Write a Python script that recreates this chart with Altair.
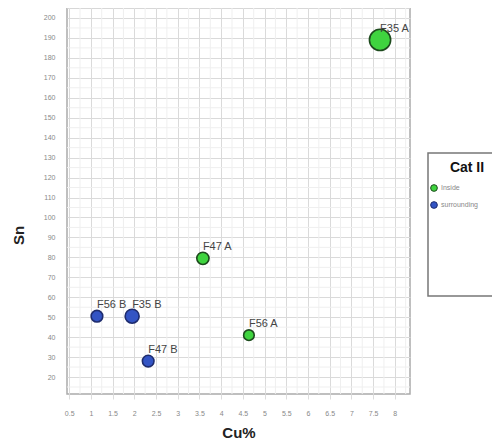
import altair as alt
import pandas as pd

labels = ["F35 A", "F47 A", "F56 A", "F56 B", "F35 B", "F47 B"]
cu = [7.66, 3.58, 4.64, 1.14, 1.95, 2.32]
sn = [189, 79.5, 41, 50.5, 50.5, 28]
weight = [30, 10, 7.5, 9, 13, 9]
cat = ["Inside", "Inside", "Inside", "surrounding", "surrounding", "surrounding"]

categories = ["Inside", "surrounding"]
fills = ["#3fd43f", "#3354c4"]
strokes = ["#1d4a1d", "#1e2c6e"]

x_ticks = [0.5 + 0.5 * i for i in range(16)]
y_ticks = [20 + 10 * i for i in range(19)]
x_minor = [0.75 + 0.5 * i for i in range(16)]
y_minor = [15 + 10 * i for i in range(20)]

df = pd.DataFrame({"label": labels, "cu": cu, "sn": sn, "w": weight, "cat": cat})
xm = pd.DataFrame({"v": x_minor})
ym = pd.DataFrame({"v": y_minor})
one = pd.DataFrame({"a": [0]})

W, H = 343, 386

xs = alt.Scale(domain=[0.45, 8.35], nice=False, zero=False)
ys = alt.Scale(domain=[11.5, 205], nice=False, zero=False)

x_axis = alt.Axis(
    values=x_ticks, format="~f", title="Cu%", labelOverlap=False,
    gridColor="#dadada", tickColor="#dddddd", tickSize=5, domain=False,
    labelFontSize=7, labelColor="#888", labelPadding=10,
    labelFont="Liberation Sans", titleFont="Liberation Sans", titleFontSize=15,
    titleFontWeight="bold", titleColor="#222", titleY=38, titleBaseline="middle")
y_axis = alt.Axis(
    values=y_ticks, format="~f", title="Sn", labelOverlap=False,
    gridColor="#dadada", tickSize=0, domain=False,
    labelFontSize=7, labelColor="#888", labelPadding=12,
    labelFont="Liberation Sans", titleFont="Liberation Sans", titleFontSize=15,
    titleFontWeight="bold", titleColor="#222", titleX=-49, titleY=227, titleAngle=-90,
    titleBaseline="middle")

x_enc = alt.X("cu:Q", scale=xs, axis=x_axis)
y_enc = alt.Y("sn:Q", scale=ys, axis=y_axis)

vminor = alt.Chart(xm).mark_rule(color="#efefef", strokeWidth=1).encode(
    x=alt.X("v:Q", scale=xs, axis=x_axis))
hminor = alt.Chart(ym).mark_rule(color="#efefef", strokeWidth=1).encode(
    y=alt.Y("v:Q", scale=ys, axis=y_axis))

base = alt.Chart(df)

points = base.mark_point(filled=True, opacity=1, strokeWidth=1.6, shape="circle").encode(
    x=x_enc, y=y_enc,
    fill=alt.Fill("cat:N", scale=alt.Scale(domain=categories, range=fills),
                  legend=alt.Legend(title=None, orient="none", legendX=363, legendY=176,
                                    symbolSize=45, symbolStrokeColor="#333", symbolStrokeWidth=1,
                                    labelFontSize=7, labelColor="#888", labelFont="Liberation Sans",
                                    rowPadding=5, padding=0, labelOffset=3)),
    stroke=alt.Stroke("cat:N", scale=alt.Scale(domain=categories, range=strokes), legend=None),
    size=alt.Size("w:Q", scale=alt.Scale(domain=[0, 30], range=[0, 450]), legend=None),
)

text = base.mark_text(align="left", baseline="middle", dy=-11, dx=0, fontSize=11,
                      font="Liberation Sans", color="#444").encode(
    x=x_enc, y=y_enc, text="label:N")

box = alt.Chart(one).mark_rect(fill="white", stroke="#777", strokeWidth=1.5).encode(
    x=alt.value(361), x2=alt.value(445), y=alt.value(145), y2=alt.value(288))
box_title = alt.Chart(one).mark_text(text="Cat II", font="Liberation Sans", fontSize=14,
                                     fontWeight="bold", color="#111").encode(
    x=alt.value(400), y=alt.value(160))

chart = alt.layer(vminor, hminor, points, text, box, box_title).properties(
    width=W, height=H,
    autosize=alt.AutoSizeParams(type="none"),
    padding={"left": 59, "top": 0, "right": 82, "bottom": 46},
).configure_view(stroke="#aaaaaa", strokeWidth=1.5)

chart.save("out.html", embed_options={"renderer": "svg", "actions": False})
